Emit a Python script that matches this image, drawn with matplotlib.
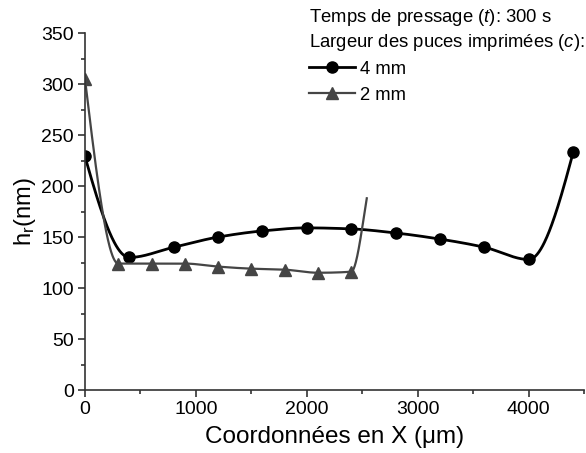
import numpy as np
import matplotlib
matplotlib.use("Agg")
import matplotlib.pyplot as plt
from matplotlib.ticker import MultipleLocator
from matplotlib.lines import Line2D

plt.rcParams['font.family'] = ['Liberation Sans', 'DejaVu Sans']
plt.rcParams['mathtext.fontset'] = 'custom'
plt.rcParams['mathtext.rm'] = 'Liberation Sans'
plt.rcParams['mathtext.it'] = 'Liberation Sans:italic'

# 4 mm chips
x_4mm = [0, 400, 800, 1200, 1600, 2000, 2400, 2800, 3200, 3600, 4000, 4400]
h_4mm = [229, 130, 140, 150, 156, 159, 158, 154, 148, 140, 128, 233]

# 2 mm chips (last curve point has no marker)
x_2mm = [0, 300, 600, 900, 1200, 1500, 1800, 2100, 2400]
h_2mm = [305, 124, 124, 124, 121, 119, 118, 115, 116]
x_2mm_tail = [2540]
h_2mm_tail = [188]


def pchip(x, y, xs):
    x = np.asarray(x, float); y = np.asarray(y, float)
    h = np.diff(x); d = np.diff(y) / h
    n = len(x); m = np.zeros(n)
    for i in range(1, n - 1):
        if d[i - 1] * d[i] > 0:
            w1 = 2 * h[i] + h[i - 1]; w2 = h[i] + 2 * h[i - 1]
            m[i] = (w1 + w2) / (w1 / d[i - 1] + w2 / d[i])

    def end(h0, h1, d0, d1):
        s = ((2 * h0 + h1) * d0 - h0 * d1) / (h0 + h1)
        if np.sign(s) != np.sign(d0):
            return 0.0
        if np.sign(d0) != np.sign(d1) and abs(s) > abs(3 * d0):
            return 3 * d0
        return s
    m[0] = end(h[0], h[1], d[0], d[1])
    m[-1] = end(h[-1], h[-2], d[-1], d[-2])
    k = np.clip(np.searchsorted(x, xs) - 1, 0, n - 2)
    hk = h[k]; t = (xs - x[k]) / hk
    h00 = 2 * t ** 3 - 3 * t ** 2 + 1; h10 = t ** 3 - 2 * t ** 2 + t
    h01 = -2 * t ** 3 + 3 * t ** 2; h11 = t ** 3 - t ** 2
    return h00 * y[k] + h10 * hk * m[k] + h01 * y[k + 1] + h11 * hk * m[k + 1]


fig = plt.figure(figsize=(5.86, 4.53), dpi=100)
ax = fig.add_axes([0.145, 0.139, 0.852, 0.788])

black = '#000000'
gray = '#454545'

xs = np.linspace(x_4mm[0], x_4mm[-1], 800)
ax.plot(xs, pchip(x_4mm, h_4mm, xs), color=black, lw=2)
ax.plot(x_4mm, h_4mm, 'o', color=black, ms=8)

xg = x_2mm + x_2mm_tail
hg = h_2mm + h_2mm_tail
xs2 = np.linspace(xg[0], xg[-1], 800)
ax.plot(xs2, pchip(xg, hg, xs2), color=gray, lw=1.6)
ax.plot(x_2mm, h_2mm, '^', color=gray, ms=9)

ax.set_xlim(0, 4500)
ax.set_ylim(0, 350)
ax.xaxis.set_major_locator(MultipleLocator(1000))
ax.xaxis.set_minor_locator(MultipleLocator(500))
ax.yaxis.set_major_locator(MultipleLocator(50))
ax.yaxis.set_minor_locator(MultipleLocator(25))
for s in ['top', 'right']:
    ax.spines[s].set_visible(False)
for s in ['left', 'bottom']:
    ax.spines[s].set_color('#333333')
    ax.spines[s].set_linewidth(1.2)
ax.tick_params(which='both', direction='out', color='#333333', width=1.2)
ax.tick_params(which='major', length=5, labelsize=14, pad=3)
ax.tick_params(which='minor', length=3)

ax.set_xlabel('Coordonnées en X (μm)', fontsize=17.5, labelpad=6)
ax.set_ylabel('h$_\\mathrm{r}$(nm)', fontsize=17, labelpad=2)

fig.text(0.527, 0.962, 'Temps de pressage ($\\mathit{t}$): 300 s', fontsize=13.3, va='center')
fig.text(0.527, 0.907, 'Largeur des puces imprimées ($\\mathit{c}$):', fontsize=13.3, va='center')

handles = [Line2D([], [], color=black, lw=2, marker='o', ms=8),
           Line2D([], [], color=gray, lw=1.6, marker='^', ms=9)]
fig.legend(handles, ['4 mm', '2 mm'], loc='upper left', bbox_to_anchor=(0.527, 0.866),
           frameon=False, fontsize=13.3, handlelength=2.5, handletextpad=0.25,
           labelspacing=0.5, borderpad=0, borderaxespad=0)

fig.savefig('out.png', dpi=100)
